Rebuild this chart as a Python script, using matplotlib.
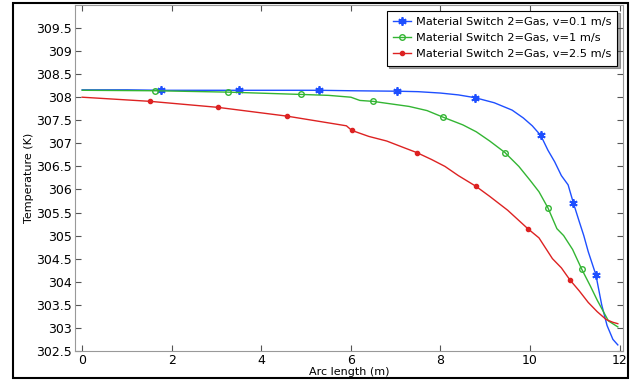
import matplotlib
matplotlib.use('Agg')
import matplotlib.pyplot as plt
from matplotlib.patches import Rectangle

# v = 0.1 m/s
x_slow = [0, 1.0, 1.76, 2.5, 3.5, 4.5, 5.29, 6.0, 7.03, 7.5, 8.0, 8.4, 8.77, 9.2, 9.6,
          9.85, 10.05, 10.24, 10.4, 10.55, 10.7, 10.85, 10.97, 11.1, 11.2, 11.3, 11.47,
          11.6, 11.72, 11.85, 11.96]
T_slow = [308.16, 308.16, 308.15, 308.15, 308.15, 308.15, 308.15, 308.14, 308.13, 308.12,
          308.09, 308.05, 307.99, 307.88, 307.72, 307.55, 307.38, 307.17, 306.85, 306.6,
          306.3, 306.1, 305.7, 305.3, 305.0, 304.65, 304.15, 303.5, 303.05, 302.75, 302.63]
mk_slow = [2, 4, 6, 8, 12, 17, 22, 26]

# v = 1 m/s
x_mid = [0, 1.63, 3.26, 4.89, 5.5, 6.0, 6.2, 6.49, 7.3, 7.7, 8.05, 8.5, 8.8, 9.1, 9.44,
         9.75, 10.0, 10.2, 10.4, 10.6, 10.75, 10.95, 11.15, 11.35, 11.5, 11.75, 11.96]
T_mid = [308.15, 308.14, 308.11, 308.06, 308.04, 308.0, 307.93, 307.91, 307.8, 307.71,
         307.57, 307.4, 307.25, 307.05, 306.8, 306.5, 306.2, 305.95, 305.6, 305.15, 305.0,
         304.7, 304.28, 303.9, 303.6, 303.15, 303.02]
mk_mid = [1, 2, 3, 7, 10, 14, 18, 22]

# v = 2.5 m/s
x_fast = [0, 1.52, 3.03, 4.57, 5.9, 6.02, 6.4, 6.8, 7.2, 7.47, 7.8, 8.1, 8.4, 8.79, 9.1,
          9.5, 9.95, 10.2, 10.5, 10.7, 10.89, 11.1, 11.3, 11.5, 11.7, 11.85, 11.96]
T_fast = [308.0, 307.91, 307.78, 307.59, 307.38, 307.28, 307.15, 307.05, 306.9, 306.8,
          306.65, 306.5, 306.3, 306.07, 305.85, 305.55, 305.15, 304.95, 304.5, 304.3,
          304.04, 303.8, 303.55, 303.35, 303.18, 303.12, 303.09]
mk_fast = [1, 2, 3, 5, 9, 13, 16, 20]

yticks = [302.5, 303, 303.5, 304, 304.5, 305, 305.5, 306, 306.5, 307, 307.5, 308,
          308.5, 309, 309.5]
ytick_labels = ['302.5', '303', '303.5', '304', '304.5', '305', '305.5', '306', '306.5',
                '307', '307.5', '308', '308.5', '309', '309.5']

fig = plt.figure(figsize=(6.33, 3.81), dpi=100)
ax = fig.add_axes([0.1185, 0.079, 0.866, 0.908])

ax.plot(x_slow, T_slow, color='#1e4fff', lw=1, marker=(6, 2, 0), markersize=6,
        markeredgewidth=1.3, markevery=mk_slow, label='Material Switch 2=Gas, v=0.1 m/s')
ax.plot(x_mid, T_mid, color='#33b533', lw=1, marker='o', markersize=4,
        markerfacecolor='none', markeredgewidth=1, markevery=mk_mid,
        label='Material Switch 2=Gas, v=1 m/s')
ax.plot(x_fast, T_fast, color='#dd2222', lw=1, marker='o', markersize=3,
        markevery=mk_fast, label='Material Switch 2=Gas, v=2.5 m/s')

ax.set_xlim(-0.16, 12.08)
ax.set_ylim(302.5, 310)
ax.set_xticks([0, 2, 4, 6, 8, 10, 12])
ax.set_yticks(yticks)
ax.set_yticklabels(ytick_labels)
ax.tick_params(direction='in', top=True, right=True, labelsize=9, length=4,
               color='#555555', pad=2)
for s in ax.spines.values():
    s.set_color('#999999')

ax.set_xlabel('Arc length (m)', fontsize=8, labelpad=0)
ax.set_ylabel('Temperature (K)', fontsize=8, labelpad=2)

leg = ax.legend(loc='upper right', fontsize=8.2, fancybox=False, shadow=True,
                borderpad=0.55, labelspacing=0.55, handlelength=1.6, handletextpad=0.4,
                borderaxespad=0.5)
leg.get_frame().set_edgecolor('black')
leg.get_frame().set_linewidth(0.8)

fig.patches.append(Rectangle((0.021, 0.008), 0.971, 0.984, transform=fig.transFigure,
                             fill=False, edgecolor='black', lw=1.5))

fig.savefig('out.png', dpi=100)
